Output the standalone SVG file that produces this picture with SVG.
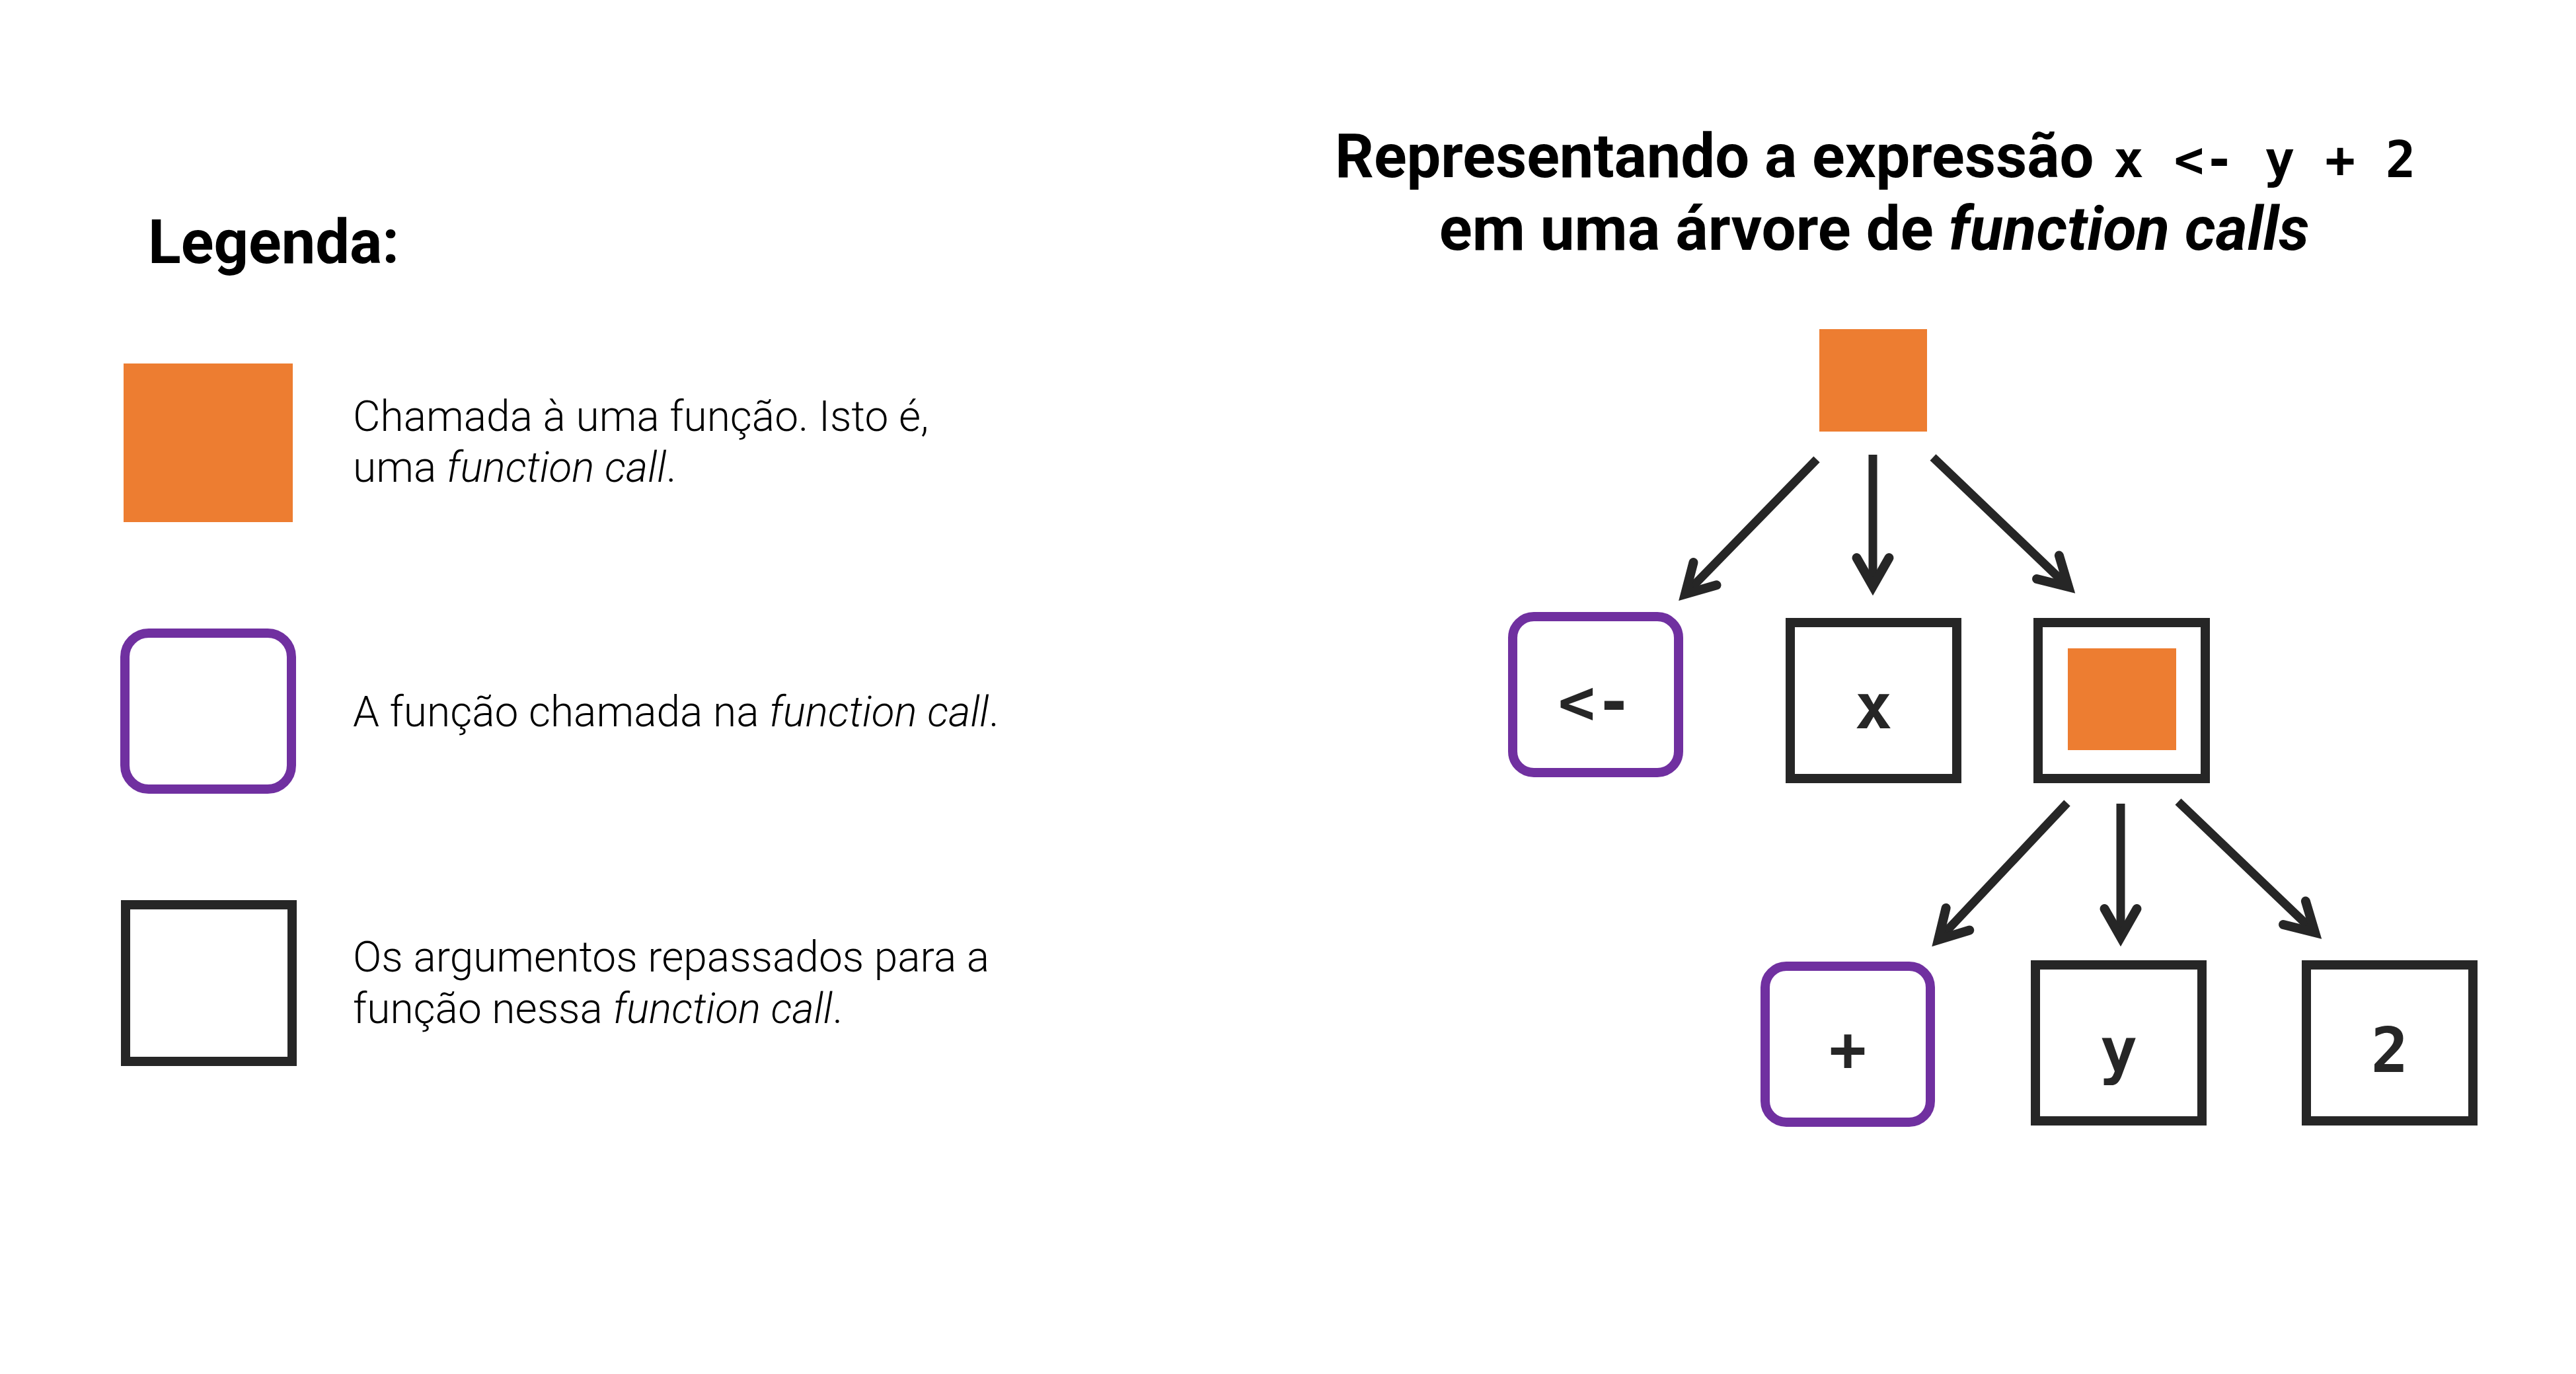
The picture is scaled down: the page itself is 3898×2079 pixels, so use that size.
<svg xmlns="http://www.w3.org/2000/svg" width="3898" height="2079" viewBox="0 0 3898 2079">
<style>
.bg{fill:#ffffff}
.call{fill:#ED7D31}
.fn{fill:#ffffff;stroke:#7030A0;stroke-width:14}
.arg{fill:#ffffff;stroke:#262626;stroke-width:14}
.edge{stroke:#262626;stroke-width:13;fill:none}
.head{fill:none;stroke:#262626;stroke-width:14;stroke-linecap:round;stroke-linejoin:miter;stroke-miterlimit:6}
.title{font-family:Roboto,"Liberation Sans",sans-serif;font-weight:700;fill:#000000}
.mono{font-family:"DejaVu Sans Mono","Liberation Mono",monospace;font-weight:700}
.desc{font-family:Roboto,"Liberation Sans",sans-serif;font-weight:300;font-size:64px;fill:#000000}
.lbl{font-family:"DejaVu Sans Mono","Liberation Mono",monospace;font-weight:700;font-size:94px;fill:#262626;text-anchor:middle}
.it{font-style:italic}
</style>
<defs>
<marker id="arrow" markerUnits="userSpaceOnUse" orient="auto" refX="0" refY="0" markerWidth="120" markerHeight="100" viewBox="-60 -50 120 100" overflow="visible">
<path class="head" d="M-43,-24.5 L0,0 L-43,24.5"/>
</marker>
</defs>
<rect class="bg" x="0" y="0" width="3898" height="2079"/>

<g id="legend-title">
<text class="title" x="224" y="398" font-size="92">Legenda:</text>
</g>

<g id="legend-call">
<rect class="call" x="187" y="550" width="256" height="240"/>
<text class="desc" x="534" y="652">Chamada à uma função. Isto é,</text>
<text class="desc" x="534" y="729">uma <tspan class="it">function call</tspan>.</text>
</g>

<g id="legend-function">
<rect class="fn" x="189" y="958" width="252" height="236" rx="36" ry="36"/>
<text class="desc" x="534" y="1099">A função chamada na <tspan class="it">function call</tspan>.</text>
</g>

<g id="legend-argument">
<rect class="arg" x="190" y="1369" width="252" height="237"/>
<text class="desc" x="534" y="1470">Os argumentos repassados para a</text>
<text class="desc" x="534" y="1548">função nessa <tspan class="it">function call</tspan>.</text>
</g>

<g id="title">
<text class="title" x="2020" y="268" font-size="92">Representando a expressão <tspan class="mono" x="3198" font-size="76">x &lt;- y + 2</tspan></text>
<text class="title" x="2836" y="378" font-size="92.5" text-anchor="middle">em uma árvore de <tspan class="it">function calls</tspan></text>
</g>

<g id="node-root">
<rect class="call" x="2753" y="498" width="163" height="155"/>
</g>

<g id="node-assign">
<rect class="fn" x="2289" y="933" width="251" height="236" rx="32" ry="32"/>
<text class="lbl" x="2414" y="1095">&lt;-</text>
</g>

<g id="node-x">
<rect class="arg" x="2709" y="942" width="252" height="236"/>
<text class="lbl" x="2835" y="1102">x</text>
</g>

<g id="node-call2">
<rect class="arg" x="3084" y="942" width="253" height="236"/>
<rect class="call" x="3129" y="981" width="164" height="154"/>
</g>

<g id="node-plus">
<rect class="fn" x="2671" y="1462" width="250" height="236" rx="32" ry="32"/>
<text class="lbl" x="2796" y="1620">+</text>
</g>

<g id="node-y">
<rect class="arg" x="3080" y="1460" width="252" height="236"/>
<text class="lbl" x="3206" y="1622">y</text>
</g>

<g id="node-2">
<rect class="arg" x="3490" y="1460" width="252" height="236"/>
<text class="lbl" x="3616" y="1622">2</text>
</g>

<g id="connectors">
<line class="edge" x1="2749" y1="695" x2="2550" y2="899" marker-end="url(#arrow)"/>
<line class="edge" x1="2834" y1="688" x2="2834" y2="887" marker-end="url(#arrow)"/>
<line class="edge" x1="2925" y1="692" x2="3130" y2="888" marker-end="url(#arrow)"/>
<line class="edge" x1="3128" y1="1215" x2="2933" y2="1422" marker-end="url(#arrow)"/>
<line class="edge" x1="3209" y1="1216" x2="3209" y2="1418" marker-end="url(#arrow)"/>
<line class="edge" x1="3296" y1="1213" x2="3503" y2="1411" marker-end="url(#arrow)"/>
</g>
</svg>
